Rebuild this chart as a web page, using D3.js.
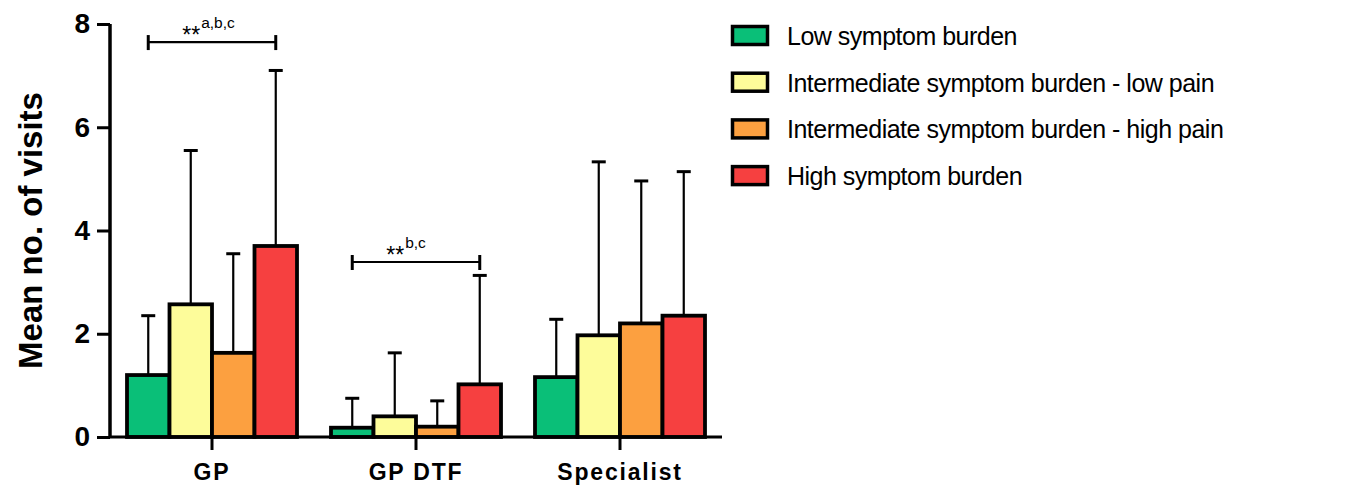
<!DOCTYPE html>
<html>
<head>
<meta charset="utf-8">
<script src="https://cdn.jsdelivr.net/npm/d3@7"></script>
<style>
  body { margin: 0; background: #fff; }
  svg { display: block; font-family: "Liberation Sans", Arial, sans-serif; }
</style>
</head>
<body>
<svg id="chart" width="1349" height="485"></svg>
<script>
// data
const categories = ["GP", "GP DTF", "Specialist"];
const groups = ["Low symptom burden", "Intermediate symptom burden - low pain",
    "Intermediate symptom burden - high pain", "High symptom burden"];
const colors = ["#0abf78", "#fdfc9a", "#fca040", "#f64040"];
const lowValues = [1.2, 0.18, 1.16];
const intLowPainValues = [2.57, 0.4, 1.97];
const intHighPainValues = [1.63, 0.2, 2.2];
const highValues = [3.7, 1.02, 2.35];
// upper end of each error bar (mean + SD)
const lowUpper = [2.35, 0.75, 2.28];
const intLowPainUpper = [5.55, 1.63, 5.33];
const intHighPainUpper = [3.55, 0.7, 4.96];
const highUpper = [7.1, 3.13, 5.14];
const yTicks = [0, 2, 4, 6, 8];
// significance brackets: category, label, superscript, height
const brackets = [
    { cat: "GP", label: "**", sup: "a,b,c", y: 7.65 },
    { cat: "GP DTF", label: "**", sup: "b,c", y: 3.39 }
];

const values = [lowValues, intLowPainValues, intHighPainValues, highValues];
const uppers = [lowUpper, intLowPainUpper, intHighPainUpper, highUpper];

const svg = d3.select("#chart");

const x = d3.scaleBand()
    .domain(categories)
    .range([110, 722])
    .paddingInner(1 / 6)
    .paddingOuter(1 / 12);

const xInner = d3.scaleBand()
    .domain(d3.range(groups.length))
    .range([0, x.bandwidth()]);

const y = d3.scaleLinear()
    .domain([0, 8])
    .range([437, 24]);

// error bars (drawn first so the bars cover the lower part)
const errG = svg.append("g").attr("stroke", "#000").attr("stroke-width", 2.2);
categories.forEach((cat, ci) => {
    groups.forEach((g, gi) => {
        const cx = x(cat) + xInner(gi) + xInner.bandwidth() / 2;
        errG.append("line")
            .attr("x1", cx).attr("x2", cx)
            .attr("y1", y(values[gi][ci])).attr("y2", y(uppers[gi][ci]));
        errG.append("line")
            .attr("x1", cx - 7).attr("x2", cx + 7)
            .attr("y1", y(uppers[gi][ci])).attr("y2", y(uppers[gi][ci]))
            .attr("stroke-width", 3);
    });
});

// bars
categories.forEach((cat, ci) => {
    svg.append("g")
        .selectAll("rect")
        .data(groups.map((g, gi) => ({ gi, v: values[gi][ci] })))
        .join("rect")
        .attr("x", d => x(cat) + xInner(d.gi))
        .attr("y", d => y(d.v))
        .attr("width", xInner.bandwidth())
        .attr("height", d => y(0) - y(d.v))
        .attr("fill", d => colors[d.gi])
        .attr("stroke", "#000")
        .attr("stroke-width", 3.8);
});

// y axis
const yAxis = svg.append("g")
    .attr("transform", "translate(110,0)")
    .call(d3.axisLeft(y).tickValues(yTicks).tickSize(13).tickPadding(7));
yAxis.select(".domain").attr("stroke-width", 3.5).attr("d", `M0,${y(8)}V${y(0)}`);
yAxis.selectAll(".tick line").attr("stroke-width", 3);
yAxis.selectAll(".tick text")
    .attr("font-size", 28).attr("font-weight", "bold").attr("fill", "#000")
    .attr("font-family", "Liberation Sans, Arial, sans-serif");

// x axis
const xAxis = svg.append("g")
    .attr("transform", `translate(0,${y(0)})`)
    .call(d3.axisBottom(x).tickSize(13).tickPadding(14));
xAxis.select(".domain").attr("stroke-width", 3).attr("d", "M110,0H722");
xAxis.selectAll(".tick line").attr("stroke-width", 3);
xAxis.selectAll(".tick text")
    .attr("font-size", 23).attr("font-weight", "bold").attr("fill", "#000")
    .attr("letter-spacing", 1.8)
    .attr("font-family", "Liberation Sans, Arial, sans-serif");

// y title
svg.append("text")
    .attr("transform", `translate(42,${(y(0) + y(8)) / 2}) rotate(-90)`)
    .attr("text-anchor", "middle")
    .attr("font-size", 33).attr("font-weight", "bold")
    .text("Mean no. of visits");

// significance brackets
brackets.forEach(b => {
    const x1 = x(b.cat) + xInner(0) + xInner.bandwidth() / 2;
    const x2 = x(b.cat) + xInner(3) + xInner.bandwidth() / 2;
    const by = y(b.y);
    const bg = svg.append("g").attr("stroke", "#000");
    bg.append("line").attr("x1", x1).attr("x2", x2).attr("y1", by).attr("y2", by).attr("stroke-width", 2.2);
    bg.append("line").attr("x1", x1).attr("x2", x1).attr("y1", by - 7).attr("y2", by + 8).attr("stroke-width", 3);
    bg.append("line").attr("x1", x2).attr("x2", x2).attr("y1", by - 7).attr("y2", by + 8).attr("stroke-width", 3);
    const t = svg.append("text")
        .attr("x", x1 + 34).attr("y", by + 1)
        .attr("font-size", 23);
    t.append("tspan").text(b.label);
    t.append("tspan").attr("dx", 1).attr("y", by - 14).attr("font-size", 15.5).text(b.sup);
});

// legend
const legend = svg.append("g").attr("transform", "translate(731,25)");
groups.forEach((g, i) => {
    const row = legend.append("g").attr("transform", `translate(0,${i * 46.7})`);
    row.append("rect")
        .attr("x", 1.5).attr("y", 1.5)
        .attr("width", 35).attr("height", 18)
        .attr("fill", colors[i]).attr("stroke", "#000").attr("stroke-width", 3.5);
    row.append("text")
        .attr("x", 56).attr("y", 20)
        .attr("font-size", 25)
        .attr("letter-spacing", -0.5)
        .text(g);
});
</script>
</body>
</html>
